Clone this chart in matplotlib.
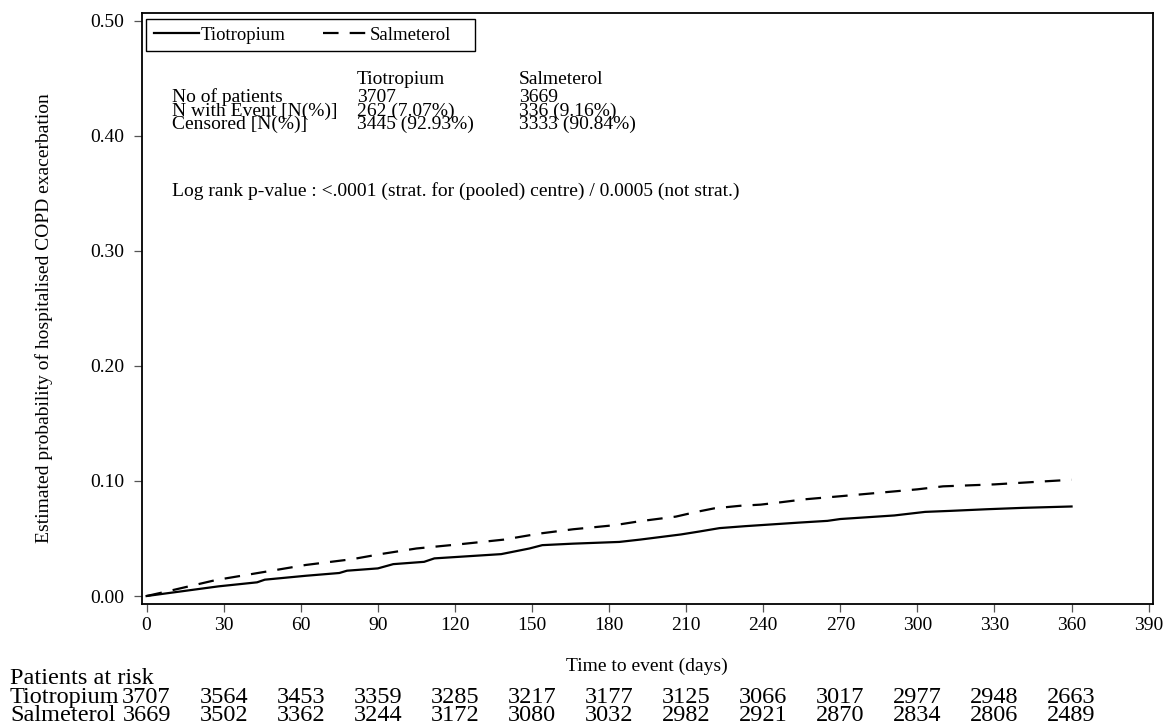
import matplotlib
matplotlib.use("Agg")
import matplotlib.pyplot as plt
import matplotlib.transforms as mtransforms
from matplotlib.patches import Rectangle

plt.rcParams['font.family'] = ['Liberation Serif', 'DejaVu Serif']

# Kaplan-Meier type cumulative probability curves
tio_days = [0, 10, 28, 43, 46, 62, 75, 78, 90, 96, 108, 112, 138, 149, 154, 166,
            184, 192, 208, 215, 223, 233, 254, 265, 270, 291, 303, 313, 327, 341, 360]
tio_prob = [0, 0.003, 0.0084, 0.0119, 0.0142, 0.0176, 0.020, 0.022, 0.024, 0.0277,
            0.0297, 0.0327, 0.0364, 0.0413, 0.0442, 0.0455, 0.047, 0.049, 0.0535,
            0.056, 0.059, 0.0607, 0.0638, 0.0653, 0.0669, 0.070, 0.0731, 0.074,
            0.0754, 0.0766, 0.0778]

sal_days = [0, 8, 27, 46, 62, 80, 91, 105, 122, 139, 153, 166, 182, 192, 206, 214,
            221, 231, 239, 247, 256, 270, 300, 310, 330, 350, 360]
sal_prob = [0, 0.004, 0.0139, 0.021, 0.027, 0.032, 0.0364, 0.0413, 0.045, 0.049,
            0.0543, 0.058, 0.0615, 0.065, 0.069, 0.0731, 0.0762, 0.0784, 0.0794,
            0.0815, 0.084, 0.0867, 0.0927, 0.0953, 0.097, 0.0997, 0.101]

# patients at risk table
risk_days = [0, 30, 60, 90, 120, 150, 180, 210, 240, 270, 300, 330, 360]
tio_risk = [3707, 3564, 3453, 3359, 3285, 3217, 3177, 3125, 3066, 3017, 2977, 2948, 2663]
sal_risk = [3669, 3502, 3362, 3244, 3172, 3080, 3032, 2982, 2921, 2870, 2834, 2806, 2489]

# summary block
groups = ["Tiotropium", "Salmeterol"]
stat_rows = ["No of patients", "N with Event [N(%)]", "Censored [N(%)]"]
tio_stats = ["3707", "262 (7.07%)", "3445 (92.93%)"]
sal_stats = ["3669", "336 (9.16%)", "3333 (90.84%)"]
logrank = "Log rank p-value : <.0001 (strat. for (pooled) centre) / 0.0005 (not strat.)"

W, H = 1165, 728
fig = plt.figure(figsize=(W / 100, H / 100), dpi=100)
ax = fig.add_axes([141.6 / W, 1 - 603.5 / H, (1153 - 141.6) / W, (603.5 - 12.5) / H])

def fx(px):
    return px / W

def fy(py):
    return 1 - py / H

ax.plot(tio_days, tio_prob, color='black', lw=1.6, label=groups[0])
ax.plot(sal_days, sal_prob, color='black', lw=1.6, linestyle=(0, (7, 5)), label=groups[1])

ax.set_xlim(-1.95, 391.7)
ax.set_ylim(-0.0065, 0.507)
ax.set_xticks(range(0, 391, 30))
ax.set_yticks([0, 0.1, 0.2, 0.3, 0.4, 0.5])
ax.set_yticklabels(["0.00", "0.10", "0.20", "0.30", "0.40", "0.50"])
ax.tick_params(axis='both', labelsize=14, length=5.5, width=0.9, color='#555555')
ax.tick_params(axis='y', pad=7)
ax.tick_params(axis='x', pad=4)
for s in ax.spines.values():
    s.set_linewidth(1.3)

ax.set_ylabel("Estimated probability of hospitalised COPD exacerbation", fontsize=14)
ax.yaxis.set_label_coords(-0.0875, 0.483)
fig.text(0.5 * (fx(141.6) + fx(1153)), fy(671), "Time to event (days)", fontsize=14,
         ha='center', va='baseline')

# legend with a hand-sized frame
leg = ax.legend(loc='upper left', bbox_to_anchor=(fx(147), fy(20)),
                bbox_transform=fig.transFigure, borderaxespad=0, ncol=2,
                fontsize=13.5, handlelength=2.4, handletextpad=0.1, columnspacing=2.0,
                frameon=False, borderpad=0.35)
leg.set_zorder(6)
ax.add_patch(Rectangle((fx(146), fy(51)), fx(475) - fx(146), fy(19) - fy(51),
                       transform=fig.transFigure, fill=False,
                       edgecolor='black', lw=1.0, zorder=5, clip_on=False))

# summary block text
fig.text(fx(357), fy(84), groups[0], fontsize=14, va='baseline')
fig.text(fx(519), fy(84), groups[1], fontsize=14, va='baseline')
for i, lab in enumerate(stat_rows):
    yb = fy(102 + 13.5 * i)
    fig.text(fx(172), yb, lab, fontsize=14, va='baseline')
    fig.text(fx(357), yb, tio_stats[i], fontsize=14, va='baseline')
    fig.text(fx(519), yb, sal_stats[i], fontsize=14, va='baseline')
fig.text(fx(172), fy(196), logrank, fontsize=14, va='baseline')

# patients at risk
trans = mtransforms.blended_transform_factory(ax.transData, fig.transFigure)
fig.text(fx(10), fy(684), "Patients at risk", fontsize=17.5, va='baseline')
fig.text(fx(10), fy(703), groups[0], fontsize=17.5, va='baseline')
fig.text(fx(10), fy(721), groups[1], fontsize=17.5, va='baseline')
for d, t, s in zip(risk_days, tio_risk, sal_risk):
    ax.text(d, fy(703), str(t), transform=trans, fontsize=17.5, ha='center', va='baseline')
    ax.text(d, fy(721), str(s), transform=trans, fontsize=17.5, ha='center', va='baseline')

fig.savefig("out.png", dpi=100)
